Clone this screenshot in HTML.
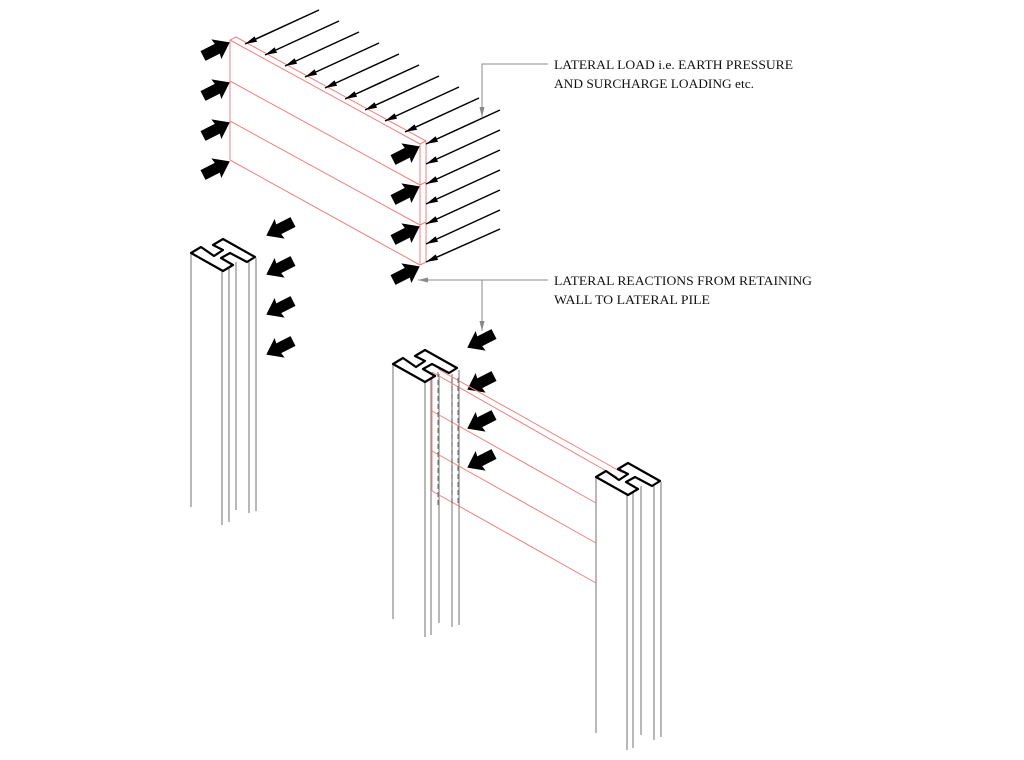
<!DOCTYPE html>
<html><head><meta charset="utf-8"><style>
html,body{margin:0;padding:0;background:#fff;}
svg{display:block;}
text{font-family:"Liberation Serif",serif;font-size:13px;fill:#111;}
</style></head><body>
<svg width="1024" height="760" viewBox="0 0 1024 760" xmlns="http://www.w3.org/2000/svg">
<defs>
<marker id="ah" markerWidth="12" markerHeight="6" refX="12" refY="3" orient="auto" markerUnits="userSpaceOnUse">
<path d="M0,0 L12,3 L0,6 Z" fill="#000"/></marker>
<marker id="gh" markerWidth="10" markerHeight="5" refX="10" refY="2.5" orient="auto" markerUnits="userSpaceOnUse">
<path d="M0,0 L10,2.5 L0,5 Z" fill="#888"/></marker>
<path id="fat" d="M0,-5.5 L16,-5.5 L15,-11 L30,0 L15,11 L16,5.5 L0,5.5 Z" fill="#000"/>
<g id="hsec">
<path d="M0,0 L32,18 L42,12 L30,5 L39,0 L56,9 L64,4 L32,-14 L22,-8 L32,-3 L23,3 L10,-6 Z" fill="#fff" stroke="#000" stroke-width="2.2" stroke-linejoin="round"/>
</g>
</defs>

<g stroke="#f08080" stroke-width="1" fill="none">
<line x1="230" y1="40" x2="420" y2="144"/>
<line x1="236" y1="37" x2="426" y2="141"/>
<line x1="230" y1="40" x2="236" y2="37"/>
<line x1="230" y1="40" x2="230" y2="160"/>
<line x1="420" y1="144" x2="420" y2="265"/>
<line x1="426" y1="141" x2="426" y2="262"/>
<line x1="420" y1="144" x2="426" y2="141"/>
<line x1="230" y1="81" x2="420" y2="185"/>
<line x1="230" y1="121" x2="420" y2="225"/>
<line x1="230" y1="160" x2="420" y2="265"/>
<line x1="420" y1="185" x2="426" y2="182"/>
<line x1="420" y1="225" x2="426" y2="222"/>
<line x1="420" y1="265" x2="426" y2="262"/>
</g>

<g stroke="#000" stroke-width="1.5" marker-end="url(#ah)">
<line x1="319" y1="10" x2="245" y2="44"/>
<line x1="339" y1="21" x2="265" y2="55"/>
<line x1="359" y1="32" x2="285" y2="66"/>
<line x1="379" y1="43" x2="305" y2="77"/>
<line x1="399" y1="54" x2="325" y2="88"/>
<line x1="419" y1="65" x2="345" y2="99"/>
<line x1="439" y1="76" x2="365" y2="110"/>
<line x1="459" y1="87" x2="385" y2="121"/>
<line x1="479" y1="98" x2="405" y2="132"/>
<line x1="500" y1="110" x2="426" y2="144"/>
<line x1="500" y1="130" x2="426" y2="164"/>
<line x1="500" y1="150" x2="426" y2="184"/>
<line x1="500" y1="170" x2="426" y2="204"/>
<line x1="500" y1="190" x2="426" y2="224"/>
<line x1="500" y1="210" x2="426" y2="244"/>
<line x1="500" y1="229" x2="426" y2="262"/>
</g>

<g>
<use href="#fat" transform="translate(203,56) rotate(-27)"/>
<use href="#fat" transform="translate(203,96) rotate(-27)"/>
<use href="#fat" transform="translate(203,136) rotate(-27)"/>
<use href="#fat" transform="translate(203,175) rotate(-27)"/>
<use href="#fat" transform="translate(393,160) rotate(-27)"/>
<use href="#fat" transform="translate(393,200) rotate(-27)"/>
<use href="#fat" transform="translate(393,240) rotate(-27)"/>
<use href="#fat" transform="translate(393,280) rotate(-27)"/>
<use href="#fat" transform="translate(293,222) rotate(153)"/>
<use href="#fat" transform="translate(293,261) rotate(153)"/>
<use href="#fat" transform="translate(293,301) rotate(153)"/>
<use href="#fat" transform="translate(293,341) rotate(153)"/>
<use href="#fat" transform="translate(494,334) rotate(153)"/>
<use href="#fat" transform="translate(494,376) rotate(153)"/>
<use href="#fat" transform="translate(494,415) rotate(153)"/>
<use href="#fat" transform="translate(494,454) rotate(153)"/>
</g>

<g stroke="#888" stroke-width="1.2">
<line x1="191" y1="253" x2="191" y2="507"/>
<line x1="222" y1="270" x2="222" y2="525"/>
<line x1="229" y1="267" x2="229" y2="522"/>
<line x1="236" y1="262" x2="236" y2="510"/>
<line x1="249" y1="262" x2="249" y2="513"/>
<line x1="256" y1="258" x2="256" y2="511"/>
</g>
<use href="#hsec" transform="translate(191,253)"/>

<g stroke="#888" stroke-width="1.2">
<line x1="393" y1="364" x2="393" y2="619"/>
<line x1="425" y1="382" x2="425" y2="637"/>
<line x1="431" y1="379" x2="431" y2="635"/>
<line x1="439" y1="374" x2="439" y2="623"/>
<line x1="452" y1="374" x2="452" y2="627"/>
<line x1="459" y1="370" x2="459" y2="625"/>
</g>

<g stroke="#f08080" stroke-width="1" fill="none">
<line x1="432" y1="372" x2="617" y2="477"/>
<line x1="438" y1="369" x2="623" y2="473"/>
<line x1="432" y1="372" x2="432" y2="491"/>
<line x1="432" y1="411" x2="596" y2="503"/>
<line x1="432" y1="451" x2="596" y2="543"/>
<line x1="432" y1="491" x2="596" y2="583"/>
</g>
<g stroke="#666" stroke-width="1" stroke-dasharray="5,3">
<line x1="438" y1="372" x2="438" y2="505"/>
<line x1="452" y1="378" x2="452" y2="505"/>
<line x1="458" y1="378" x2="458" y2="505"/>
</g>
<use href="#hsec" transform="translate(393,364)"/>

<g stroke="#888" stroke-width="1.2">
<line x1="596" y1="477" x2="596" y2="733"/>
<line x1="627" y1="494" x2="627" y2="750"/>
<line x1="633" y1="491" x2="633" y2="748"/>
<line x1="641" y1="486" x2="641" y2="735"/>
<line x1="654" y1="486" x2="654" y2="740"/>
<line x1="661" y1="482" x2="661" y2="737"/>
</g>
<use href="#hsec" transform="translate(596,477)"/>

<g stroke="#888" stroke-width="1" fill="none">
<polyline points="548,64 482,64 482,117" marker-end="url(#gh)"/>
<line x1="548" y1="280" x2="418" y2="280" marker-end="url(#gh)"/>
<line x1="482" y1="280" x2="482" y2="331" marker-end="url(#gh)"/>
</g>

<text x="554" y="69" textLength="239" lengthAdjust="spacingAndGlyphs">LATERAL LOAD i.e. EARTH PRESSURE</text>
<text x="554" y="88" textLength="200" lengthAdjust="spacingAndGlyphs">AND SURCHARGE LOADING etc.</text>
<text x="554" y="285" textLength="258" lengthAdjust="spacingAndGlyphs">LATERAL REACTIONS FROM RETAINING</text>
<text x="554" y="304" textLength="156" lengthAdjust="spacingAndGlyphs">WALL TO LATERAL PILE</text>
</svg>
</body></html>
